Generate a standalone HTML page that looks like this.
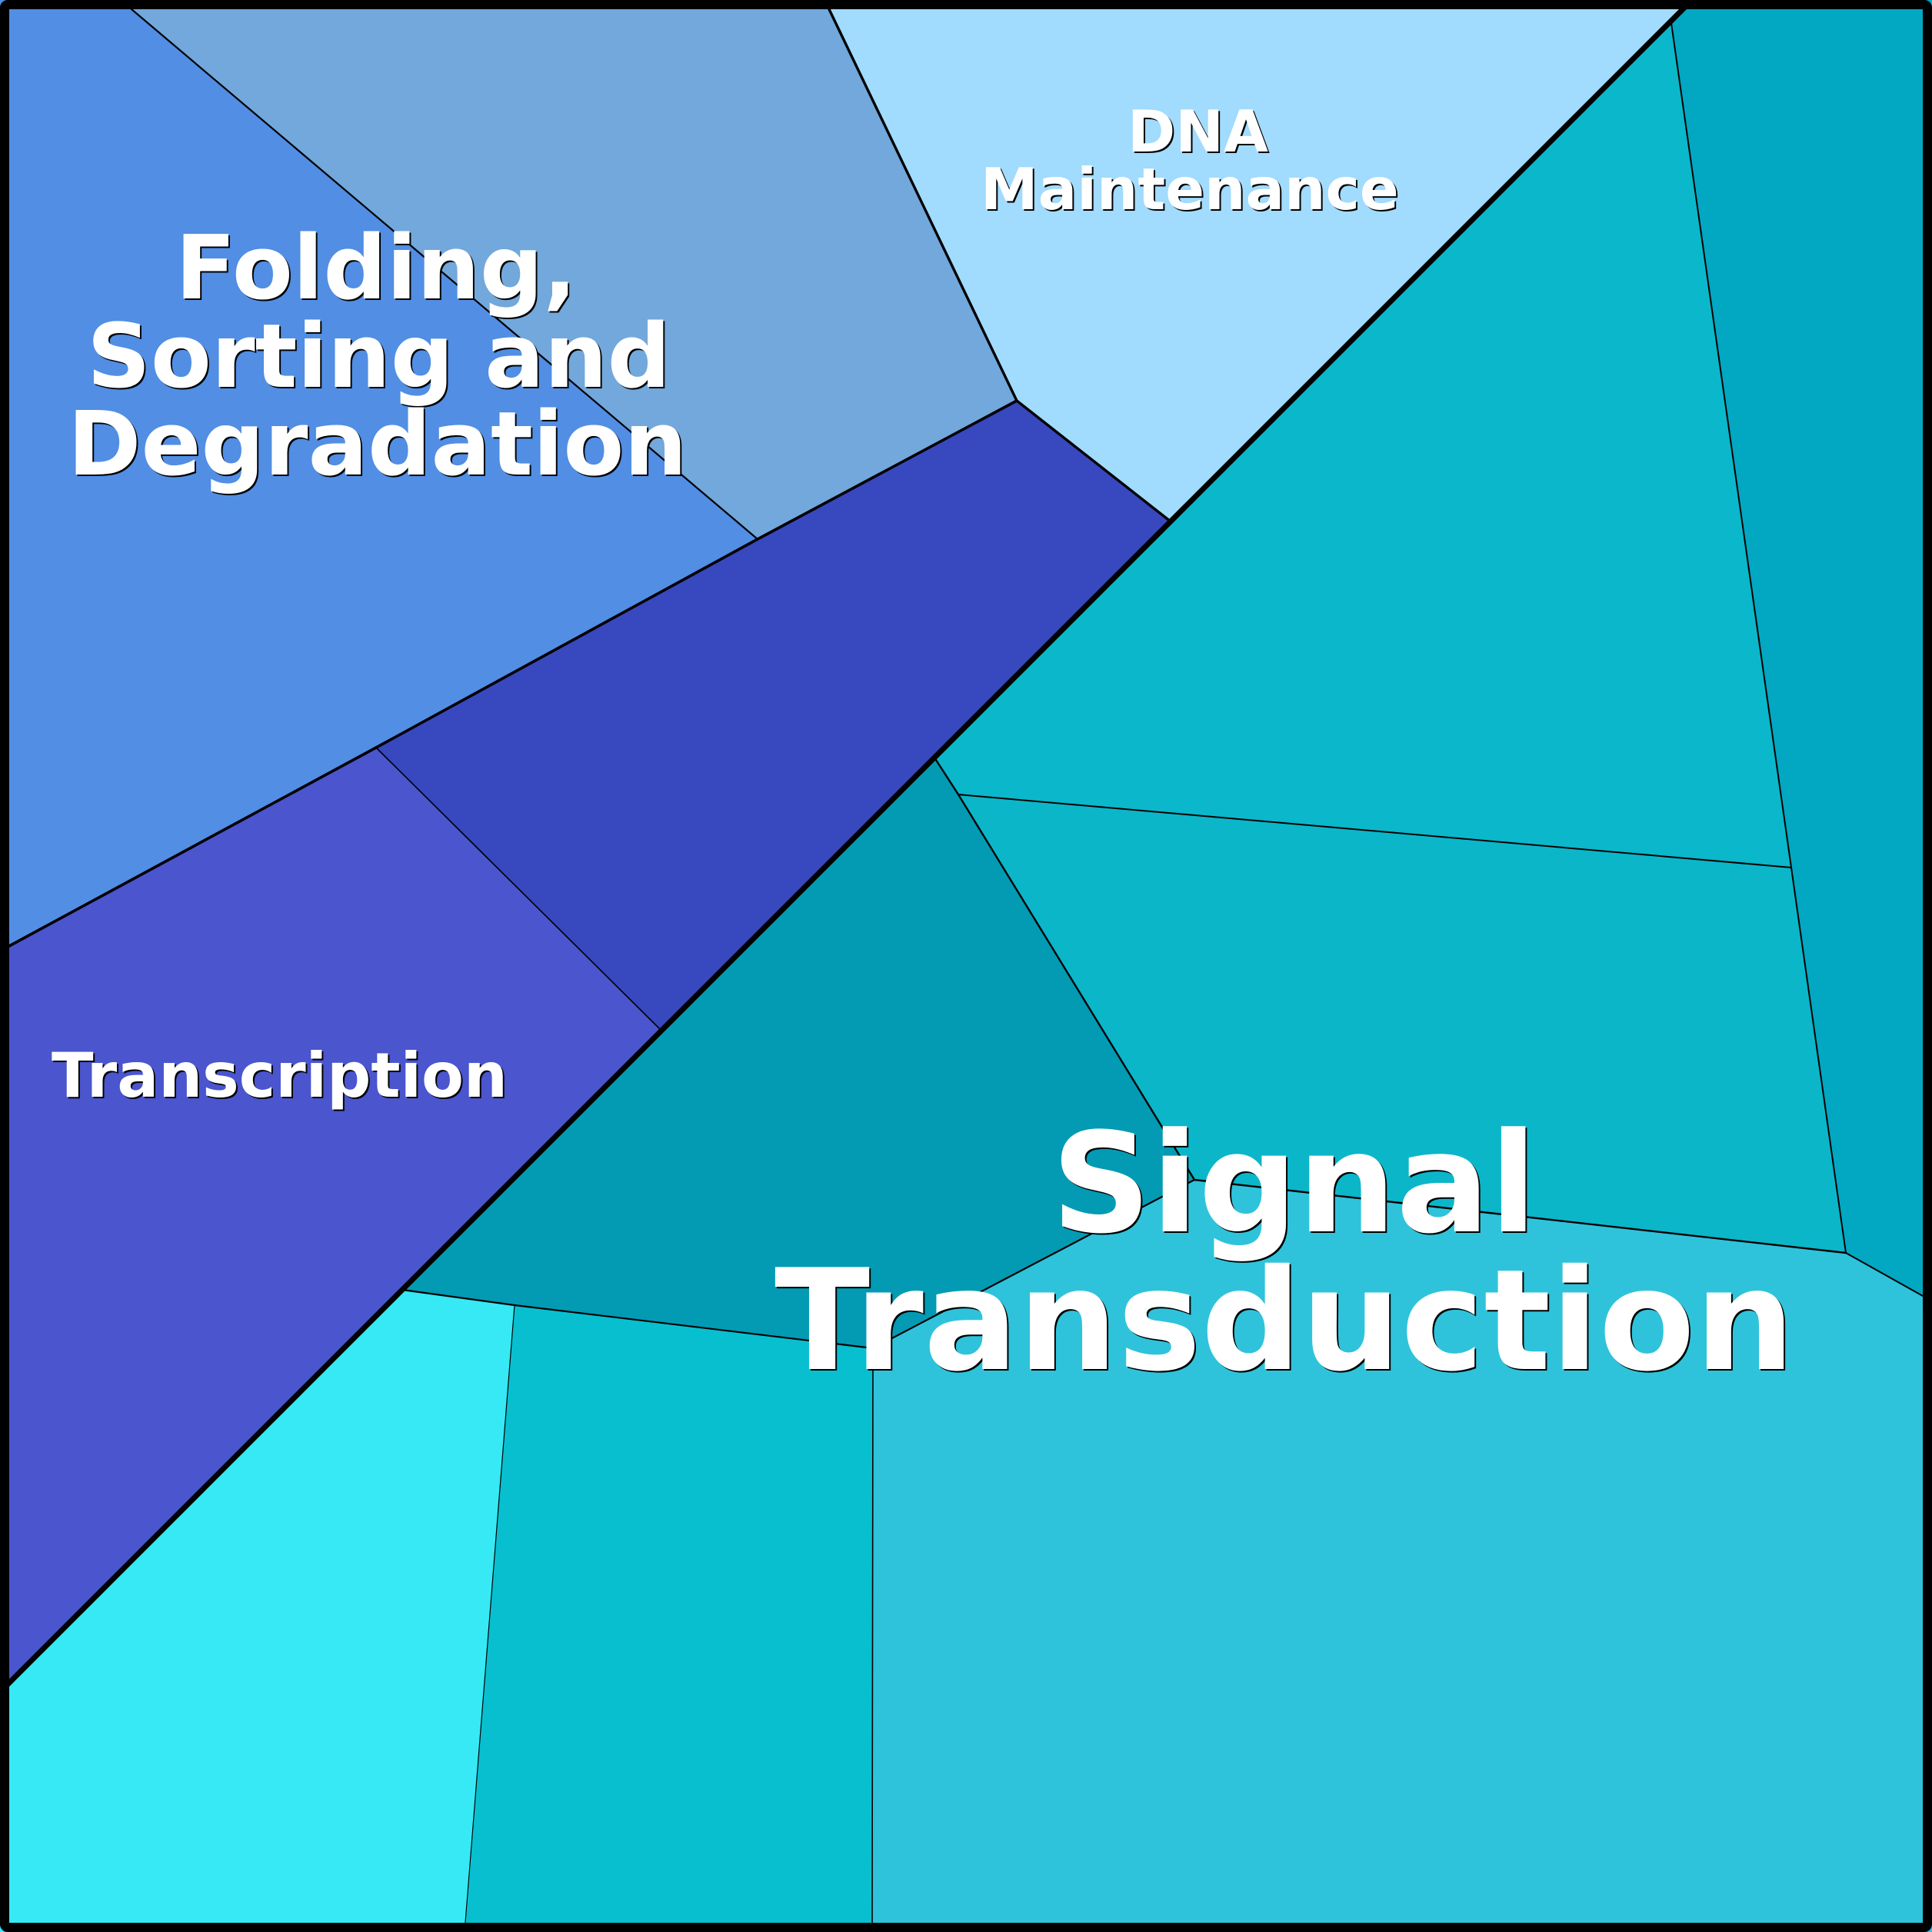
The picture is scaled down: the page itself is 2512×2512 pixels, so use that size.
<!DOCTYPE html>
<html>
<head>
<meta charset="utf-8">
<style>
  html, body { margin: 0; padding: 0; background: #000; }
  svg { display: block; }
  text { font-family: "DejaVu Sans", "Liberation Sans", sans-serif; font-weight: bold; }
</style>
</head>
<body>
<svg xmlns="http://www.w3.org/2000/svg" width="2512" height="2512" viewBox="0 0 2512 2512">
  <!-- base -->
  <rect x="0" y="0" width="2512" height="2512" fill="#029BB3"/>

  <!-- regions -->
  <polygon fill="#518EE4" points="0,0 157,0 985,701 489,972 0,1236"/>
  <polygon fill="#72A8DB" points="157,0 1072,0 1322,521 985,701"/>
  <polygon fill="#A1DBFD" points="1072,0 2200,0 1522,678 1322,521"/>
  <polygon fill="#3848BE" points="1322,521 1522,678 860,1340 489,972 985,701"/>
  <polygon fill="#4A55CE" points="0,1236 489,972 860,1340 0,2200"/>
  <polygon fill="#02A7C2" points="2173,30 2200,0 2512,0 2512,1692 2400,1629 2329,1128"/>
  <polygon fill="#0BB7CA" points="1215,985 2173,30 2329,1128 1246,1033"/>
  <polygon fill="#0BB6C9" points="1246,1033 2329,1128 2400,1629 1553,1534"/>
  <polygon fill="#029BB3" points="860,1340 1215,985 1246,1033 1553,1534 1135,1753 669,1697 523,1677"/>
  <polygon fill="#2EC3DB" points="1135,1753 1553,1534 2400,1629 2512,1692 2512,2512 1135,2512"/>
  <polygon fill="#08BFD0" points="669,1697 1135,1753 1135,2512 605,2512"/>
  <polygon fill="#36E9F4" points="0,2200 523,1677 669,1697 605,2512 0,2512"/>

  <!-- thin separators -->
  <g stroke="#000" fill="none" stroke-linecap="round" stroke-linejoin="round">
    <line x1="171" y1="12" x2="985" y2="701" stroke-width="2.2"/>
    <polyline points="1078,12 1322,521 1522,678" stroke-width="3.4"/>
    <polyline points="1322,521 985,701 489,972 12,1230" stroke-width="3.6"/>
    <line x1="489" y1="972" x2="860" y2="1340" stroke-width="1.6"/>
    <polyline points="2173,30 2329,1128 2400,1629 2500,1685" stroke-width="2"/>
    <polyline points="1215,985 1246,1033 1553,1534 2400,1629" stroke-width="2.4"/>
    <line x1="1246" y1="1033" x2="2329" y2="1128" stroke-width="2"/>
    <polyline points="1553,1534 1135,1753 669,1697 523,1677" stroke-width="2.2"/>
    <line x1="1135" y1="1753" x2="1134" y2="2500" stroke-width="1.6"/>
    <line x1="669" y1="1697" x2="605" y2="2500" stroke-width="1.2"/>
  </g>

  <!-- thick diagonal -->
  <line x1="2192" y1="8" x2="8" y2="2192" stroke="#000" stroke-width="7"/>

  <!-- labels: shadow -->
  <g fill="#000">
    <text x="230" y="390" font-size="115">Folding,</text>
    <text x="115" y="505" font-size="115">Sorting and</text>
    <text x="90" y="619" font-size="115">Degradation</text>
    <text x="1468" y="199" font-size="75">DNA</text>
    <text x="1277" y="274" font-size="75">Maintenance</text>
    <text x="69" y="1428" font-size="80">Transcription</text>
    <text x="1369" y="1603" font-size="180">Signal</text>
    <text x="1009" y="1782" font-size="182">Transduction</text>
  </g>
  <!-- labels: white -->
  <g fill="#fff">
    <text x="228" y="388" font-size="115">Folding,</text>
    <text x="113" y="503" font-size="115">Sorting and</text>
    <text x="88" y="617" font-size="115">Degradation</text>
    <text x="1466" y="197" font-size="75">DNA</text>
    <text x="1275" y="272" font-size="75">Maintenance</text>
    <text x="67" y="1426" font-size="80">Transcription</text>
    <text x="1367" y="1601" font-size="180">Signal</text>
    <text x="1007" y="1780" font-size="182">Transduction</text>
  </g>

  <!-- frame -->
  <rect x="6" y="6" width="2500" height="2500" rx="4" ry="4" fill="none" stroke="#000" stroke-width="12"/>
</svg>
</body>
</html>
